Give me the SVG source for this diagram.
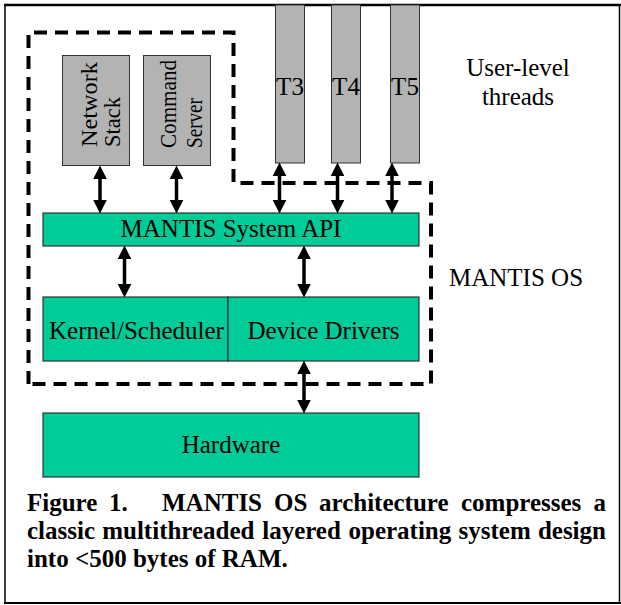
<svg xmlns="http://www.w3.org/2000/svg" width="621" height="605" viewBox="0 0 621 605">
<style>
  text { font-family: "Liberation Serif", "Times New Roman", serif; fill: #000; }
  .lbl { font-size: 25px; }
  .mid { text-anchor: middle; }
  .rot { font-size: 24px; }
  .cap { font-size: 25px; font-weight: bold; }
  .gray { fill: #b3b3b3; stroke: #333333; stroke-width: 1; }
  .green { fill: #00cc99; stroke: #333333; stroke-width: 1.2; }
  .frame { stroke: #000; fill: none; }
  .dash { fill: none; stroke: #000; stroke-width: 4; stroke-dasharray: 13 8; }
  .arr { stroke: #000; stroke-width: 3.5; fill: none; marker-start: url(#head); marker-end: url(#head); }
</style>
<defs>
  <marker id="head" markerUnits="userSpaceOnUse" viewBox="-1 -7 14 14" refX="0" refY="0" markerWidth="14" markerHeight="14" orient="auto-start-reverse" overflow="visible">
    <path d="M-1,-6.8 L12.5,0 L-1,6.8 z" fill="#000"/>
  </marker>
</defs>
<rect x="0" y="0" width="621" height="605" fill="#fff"/>

<!-- outer frame -->
<g id="frame">
  <line class="frame" x1="4" y1="5" x2="621" y2="5" stroke-width="2.5"/>
  <line class="frame" x1="5" y1="4" x2="5" y2="604" stroke-width="1.5"/>
  <line class="frame" x1="4" y1="603" x2="621" y2="603" stroke-width="2"/>
  <line class="frame" x1="619.5" y1="4" x2="619.5" y2="604" stroke-width="1.5"/>
</g>

<!-- MANTIS OS dashed boundary -->
<g id="os-boundary">
  <path class="dash" d="M28.5,384 L28.5,32.5 L233.5,32.5 L233.5,183 L431,183 L431,384 Z"/>
  <text id="label-os" class="lbl" x="449" y="286">MANTIS OS</text>
</g>

<g id="user-label">
  <text class="lbl mid" x="518" y="76">User-level</text>
  <text class="lbl mid" x="518" y="105">threads</text>
</g>

<g id="network-stack">
  <rect class="gray" x="62.5" y="55.5" width="67" height="110"/>
  <text class="rot" transform="translate(97,147) rotate(-90)" textLength="85" lengthAdjust="spacingAndGlyphs">Network</text>
  <text class="rot" transform="translate(119.5,147) rotate(-90)" textLength="50" lengthAdjust="spacingAndGlyphs">Stack</text>
</g>

<g id="command-server">
  <rect class="gray" x="143.5" y="55.5" width="67" height="110"/>
  <text class="rot" transform="translate(176,148) rotate(-90)" textLength="88" lengthAdjust="spacingAndGlyphs">Command</text>
  <text class="rot" transform="translate(201.5,148) rotate(-90)" textLength="50" lengthAdjust="spacingAndGlyphs">Server</text>
</g>

<g id="t3">
  <rect class="gray" x="275.5" y="5" width="29" height="158"/>
  <text class="lbl mid" x="290" y="95">T3</text>
</g>
<g id="t4">
  <rect class="gray" x="331.5" y="5" width="29" height="158"/>
  <text class="lbl mid" x="346" y="95">T4</text>
</g>
<g id="t5">
  <rect class="gray" x="390.5" y="5" width="29" height="158"/>
  <text class="lbl mid" x="405" y="95">T5</text>
</g>

<g id="system-api">
  <rect class="green" x="43" y="213" width="376" height="33"/>
  <text class="lbl mid" x="231" y="237">MANTIS System API</text>
</g>

<g id="kernel">
  <rect class="green" x="43" y="297" width="185" height="64"/>
  <text class="lbl" x="49" y="339">Kernel/Scheduler</text>
</g>

<g id="device-drivers">
  <rect class="green" x="228" y="297" width="191" height="64"/>
  <text class="lbl mid" x="323.5" y="339">Device Drivers</text>
</g>

<g id="hardware">
  <rect class="green" x="43" y="413" width="376" height="64"/>
  <text class="lbl mid" x="231" y="453">Hardware</text>
</g>

<g id="connectors">
  <line class="arr" x1="100" y1="178" x2="100" y2="201"/>
  <line class="arr" x1="176.5" y1="178" x2="176.5" y2="201"/>
  <line class="arr" x1="279.5" y1="175" x2="279.5" y2="201"/>
  <line class="arr" x1="337.5" y1="175" x2="337.5" y2="201"/>
  <line class="arr" x1="392" y1="175" x2="392" y2="201"/>
  <line class="arr" x1="124.5" y1="258" x2="124.5" y2="285"/>
  <line class="arr" x1="304" y1="258" x2="304" y2="285"/>
  <line class="arr" x1="304" y1="373" x2="304" y2="401"/>
</g>

<g id="caption">
  <text class="cap" y="511">
    <tspan x="27">Figure</tspan><tspan x="109">1.</tspan><tspan x="162">MANTIS</tspan><tspan x="274">OS</tspan><tspan x="319">architecture</tspan><tspan x="461">compresses</tspan><tspan x="593.5">a</tspan>
  </text>
  <text class="cap" y="539">
    <tspan x="27">classic</tspan><tspan x="102.2">multithreaded</tspan><tspan x="262.2">layered</tspan><tspan x="348.5">operating</tspan><tspan x="458.5">system</tspan><tspan x="537.9">design</tspan>
  </text>
  <text class="cap" x="27" y="567">into &lt;500 bytes of RAM.</text>
</g>
</svg>
